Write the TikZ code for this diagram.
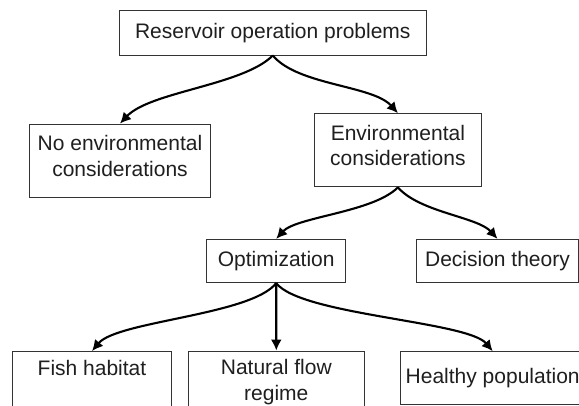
\documentclass[tikz,border=0pt]{standalone}
\usepackage{fontspec}
\setmainfont{Liberation Sans}
\usetikzlibrary{arrows.meta}
\newcommand\boxfont{\fontsize{21}{25.5}\selectfont}
\tikzset{
  box/.style={draw=black!80, line width=0.9pt, inner sep=0pt, align=center,
    font=\boxfont, text=black!88},
  twoline/.style={text depth=10pt},
  arr/.style={draw=black, line width=2.1pt, -{Latex[length=11pt,width=11pt]}},
}
\begin{document}
\begin{tikzpicture}[x=1pt,y=-1pt]
\useasboundingbox (0,0) rectangle (579,406);
\fill[white] (0,0) rectangle (579,406);
\clip (0,0) rectangle (579,406);

\node[box, minimum width=306.5pt, minimum height=44.3pt] (top) at (272.8,32.9) {Reservoir operation problems};
\node[box, twoline, minimum width=181pt, minimum height=73.3pt] (noenv) at (120,160.7) {No environmental\\considerations};
\node[box, twoline, minimum width=167pt, minimum height=73.3pt] (env) at (397.9,150.3) {Environmental\\considerations};
\node[box, minimum width=139pt, minimum height=43.4pt] (opt) at (276.2,261) {Optimization};
\node[box, minimum width=162pt, minimum height=43.4pt] (dec) at (497.5,261) {Decision theory};
\node[box, text depth=14pt, minimum width=159.4pt, minimum height=72pt] (fish) at (92,387.5) {Fish habitat\\\strut};
\node[box, text depth=14pt, minimum width=176pt, minimum height=72pt] (nat) at (276.3,387) {Natural flow\\regime};
\node[box, minimum width=184pt, minimum height=53.3pt] (healthy) at (492.7,378.3) {Healthy population};

\draw[arr] (top.south) .. controls +(-30,30) and +(30,-32) .. (noenv.north);
\draw[arr] (top.south) .. controls +(25,30) and +(-25,-28) .. (env.north);
\draw[arr] (env.south) .. controls +(-25,25) and +(20,-22) .. (opt.north);
\draw[arr] (env.south) .. controls +(22,25) and +(-20,-22) .. (dec.north);
\draw[arr] (opt.south) .. controls +(-25,32) and +(25,-30) .. (fish.north);
\draw[arr] (opt.south) -- (nat.north);
\draw[arr] (opt.south) .. controls +(25,32) and +(-25,-30) .. (healthy.north);
\end{tikzpicture}
\end{document}
